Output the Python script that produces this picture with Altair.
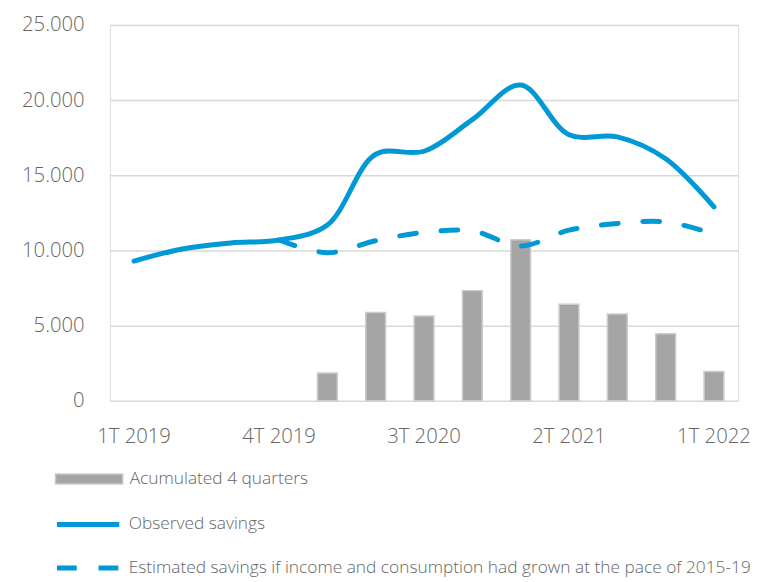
import altair as alt
import pandas as pd

quarters = ["1T 2019", "2T 2019", "3T 2019", "4T 2019", "1T 2020", "2T 2020", "3T 2020",
            "4T 2020", "1T 2021", "2T 2021", "3T 2021", "4T 2021", "1T 2022"]
observed = [9300, 10100, 10500, 10700, 11700, 16400, 16600, 18700, 21000, 17700, 17550, 16100, 12900]
estimated_quarters = quarters[3:]
estimated = [10700, 9850, 10650, 11200, 11300, 10300, 11350, 11800, 11900, 11100]
bar_quarters = quarters[4:]
bar_values = [1850, 5870, 5650, 7330, 10720, 6420, 5770, 4460, 1960]
x_tick_labels = ["1T 2019", "4T 2019", "3T 2020", "2T 2021", "1T 2022"]
y_ticks = [0, 5000, 10000, 15000, 20000, 25000]

BAR_LABEL = "Acumulated 4 quarters"
OBS_LABEL = "Observed savings"
EST_LABEL = "Estimated savings if income and consumption had grown at the pace of 2015-19"

bars_df = pd.DataFrame({"quarter": bar_quarters, "value": bar_values, "bar_series": BAR_LABEL})
obs_df = pd.DataFrame({"quarter": quarters, "value": observed, "obs_series": OBS_LABEL})
est_df = pd.DataFrame({"quarter": estimated_quarters, "value": estimated, "est_series": EST_LABEL})

FONT = "Open Sans"
GREY = "#666666"
BLUE = "#0099D6"
BAR_FILL = "#A5A5A5"
BAR_STROKE = "#CCCCCC"
LEG_FONT_SIZE = 17.5

x = alt.X("quarter:N", sort=quarters, title=None,
          scale=alt.Scale(domain=quarters, paddingInner=0.59, paddingOuter=0.295),
          axis=alt.Axis(values=x_tick_labels, labelAngle=0, labelPadding=26, labelFontSize=20.5,
                        labelColor=GREY, labelFont=FONT, labelFontWeight=300,
                        domain=False, ticks=False, grid=False))
y = alt.Y("value:Q", title=None, scale=alt.Scale(domain=[0, 25000]),
          axis=alt.Axis(values=y_ticks, labelExpr="replace(format(datum.value, ','), ',', '.')",
                        labelPadding=26, labelFontSize=20.5, labelColor=GREY, labelFont=FONT,
                        labelFontWeight=300,
                        domain=False, ticks=False, grid=True, gridColor="#D9D9D9", gridWidth=1.5))

bar_legend = alt.Legend(orient="none", legendX=-56, legendY=424, title=None, padding=0,
                        symbolType="M-1,-0.15H1V0.15H-1Z", symbolSize=4624,
                        symbolStrokeColor=BAR_STROKE, symbolStrokeWidth=1.5,
                        labelFont=FONT, labelFontSize=LEG_FONT_SIZE, labelColor=GREY,
                        labelFontWeight=300, labelOffset=6, labelLimit=800)
bars = alt.Chart(bars_df).mark_bar(stroke=BAR_STROKE, strokeWidth=1.5).encode(
    x=x, y=y,
    fill=alt.Fill("bar_series:N", scale=alt.Scale(domain=[BAR_LABEL], range=[BAR_FILL]), legend=bar_legend),
)

obs_legend = alt.Legend(orient="none", legendX=-56, legendY=471, title=None, padding=0,
                        symbolType="stroke", symbolSize=3969, symbolStrokeWidth=5,
                        labelFont=FONT, labelFontSize=LEG_FONT_SIZE, labelColor=GREY,
                        labelFontWeight=300, labelOffset=7, labelLimit=800)
obs_line = alt.Chart(obs_df).mark_line(interpolate="catmull-rom", strokeWidth=5, strokeCap="round").encode(
    x=x, y=y,
    color=alt.Color("obs_series:N", scale=alt.Scale(domain=[OBS_LABEL], range=[BLUE]), legend=obs_legend),
)

est_legend = alt.Legend(orient="none", legendX=-56, legendY=515, title=None, padding=0,
                        symbolType="stroke", symbolSize=3969, symbolStrokeWidth=5,
                        symbolDash=[20, 22],
                        labelFont=FONT, labelFontSize=LEG_FONT_SIZE, labelColor=GREY,
                        labelFontWeight=300, labelOffset=7, labelLimit=800)
est_line = alt.Chart(est_df).mark_line(interpolate="catmull-rom", strokeWidth=5, strokeCap="round",
                                       strokeDash=[17, 25]).encode(
    x=x, y=y,
    stroke=alt.Stroke("est_series:N", scale=alt.Scale(domain=[EST_LABEL], range=[BLUE]), legend=est_legend),
)

chart = alt.layer(bars, obs_line, est_line).properties(
    width=635, height=380, autosize="none",
    padding={"left": 103, "top": 14, "right": 12, "bottom": 180},
).configure_view(stroke=None).configure(background="white")

chart.save("out.html", embed_options={"renderer": "svg", "actions": False})
